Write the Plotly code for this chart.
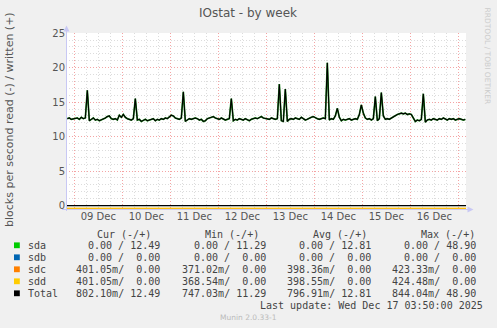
import plotly.graph_objects as go
import pandas as pd

# ---------------- data ----------------
# hourly "written" blocks/s for sda (== Total written), starting 2025-12-08 20:30
write_start = "2025-12-08 20:30"
sda_write = [
    12.6, 12.7, 12.5, 12.6,                                                   # Dec 08 tail
    12.6, 12.7, 12.5, 12.8, 12.6, 12.7, 16.7, 12.3, 12.5, 12.7, 12.4, 12.5,
    12.3, 12.4, 12.6, 12.7, 12.9, 13.0, 12.6, 12.5, 12.6, 12.4, 13.1, 12.8,   # Dec 09
    13.2, 12.8, 12.6, 12.5, 12.4, 12.6, 15.5, 12.4, 12.5, 12.2, 12.4, 12.5,
    12.3, 12.4, 12.4, 12.6, 12.3, 12.5, 12.4, 12.6, 12.5, 12.7, 12.6, 12.8,   # Dec 10
    13.1, 13.0, 12.7, 12.6, 12.5, 12.7, 16.5, 12.2, 12.4, 12.6, 12.5, 12.6,
    12.7, 12.6, 12.4, 12.5, 12.2, 12.3, 12.6, 12.7, 12.8, 12.9, 12.7, 12.6,   # Dec 11
    12.5, 12.7, 12.6, 12.4, 12.5, 12.6, 15.5, 12.3, 12.5, 12.4, 12.6, 12.5,
    12.4, 12.6, 12.5, 12.3, 12.5, 12.6, 12.7, 12.6, 12.8, 12.9, 12.7, 12.6,   # Dec 12
    12.6, 12.5, 12.7, 12.6, 12.5, 12.6, 17.6, 12.3, 12.2, 16.9, 12.2, 12.5,
    12.6, 12.5, 12.7, 12.6, 12.5, 12.8, 12.6, 12.4, 12.5, 12.7, 12.8, 12.9,   # Dec 13
    12.7, 12.6, 12.5, 12.6, 12.7, 12.6, 20.7, 12.4, 12.6, 12.5, 13.0, 14.1,
    12.8, 12.3, 12.5, 12.4, 12.5, 12.6, 12.4, 12.5, 12.6, 12.5, 13.2, 14.6,   # Dec 14
    13.4, 12.7, 12.5, 12.6, 12.4, 12.6, 15.8, 12.3, 12.6, 16.4, 13.0, 12.5,
    12.6, 12.5, 12.7, 12.8, 13.0, 13.2, 13.3, 13.4, 13.3, 13.4, 13.2, 13.3,   # Dec 15
    13.2, 12.6, 12.2, 12.4, 12.3, 12.5, 16.2, 12.1, 12.4, 12.5, 12.4, 12.6,
    12.5, 12.4, 12.6, 12.5, 12.7, 12.5, 12.4, 12.6, 12.5, 12.6, 12.4, 12.5,   # Dec 16
    12.6, 12.5, 12.4, 12.49,                                                  # Dec 17
]
total_write = sda_write  # sdb/sdc/sdd write nothing

read_times = ["2025-12-08 19:50", "2025-12-09 12:00", "2025-12-10 12:00", "2025-12-11 12:00",
              "2025-12-12 12:00", "2025-12-13 12:00", "2025-12-14 12:00", "2025-12-15 12:00",
              "2025-12-16 12:00", "2025-12-17 03:50"]
sda_read = [0, 0, 0, 0, 0, 0, 0, 0, 0, 0]
sdb_read = [0, 0, 0, 0, 0, 0, 0, 0, 0, 0]
sdc_read = [0.40, 0.40, 0.40, 0.39, 0.40, 0.40, 0.40, 0.40, 0.40, 0.40]
sdd_read = [0.40, 0.40, 0.40, 0.40, 0.40, 0.39, 0.40, 0.40, 0.40, 0.40]
total_read = [0.80, 0.80, 0.80, 0.79, 0.80, 0.79, 0.80, 0.80, 0.80, 0.80]

devices = ["sda", "sdb", "sdc", "sdd", "Total"]
dev_colors = ["#00CC00", "#0066B3", "#FF8000", "#FFCC00", "#000000"]
cur_read = [0, 0, 0.40105, 0.40105, 0.80210]
cur_write = [12.49, 0, 0, 0, 12.49]
min_read = [0, 0, 0.37102, 0.36854, 0.74703]
min_write = [11.29, 0, 0, 0, 11.29]
avg_read = [0, 0, 0.39836, 0.39855, 0.79691]
avg_write = [12.81, 0, 0, 0, 12.81]
max_read = [0, 0, 0.42333, 0.42448, 0.84404]
max_write = [48.90, 0, 0, 0, 48.90]
col_headers = ["Cur (-/+)", "Min (-/+)", "Avg (-/+)", "Max (-/+)"]
y_ticks = [0, 5, 10, 15, 20, 25]

x_start, x_end = "2025-12-08 19:50", "2025-12-17 03:50"

# ---------------- geometry helpers ----------------
W, H = 497, 328
L, R, T, B = 66, 31, 33, 119
PW, PH = W - L - R, H - T - B
def px(x): return (x - L) / PW
def py(y): return (H - B - y) / PH

times = pd.date_range(write_start, periods=len(sda_write), freq="h")

fig = go.Figure()
neg = lambda v: [-a for a in v]
for vals, c in [(sda_read, dev_colors[0]), (sdb_read, dev_colors[1]), (sdc_read, dev_colors[2]),
                (sdd_read, dev_colors[3]), (total_read, dev_colors[4])]:
    fig.add_trace(go.Scatter(x=read_times, y=neg(vals), mode="lines",
                             line=dict(color=c, width=1), hoverinfo="skip"))
fig.add_trace(go.Scatter(x=times, y=sda_write, mode="lines",
                         line=dict(color="#1E8C1E", width=1.7), hoverinfo="skip"))
fig.add_trace(go.Scatter(x=times, y=total_write, mode="lines",
                         line=dict(color=dev_colors[4], width=1.1), hoverinfo="skip"))

axis_col = "#C8C8F4"
shapes = [
    # zero line
    dict(type="line", xref="paper", yref="y", x0=0, x1=1, y0=0, y1=0,
         line=dict(color="#000000", width=1.2), layer="above"),
    # y axis line + arrow
    dict(type="line", xref="paper", yref="paper", x0=px(66.5), x1=px(66.5), y0=py(211), y1=py(30),
         line=dict(color=axis_col, width=1)),
    dict(type="path", xref="paper", yref="paper",
         path=f"M {px(63.5)} {py(31.5)} L {px(69.5)} {py(31.5)} L {px(66.5)} {py(25.5)} Z",
         fillcolor=axis_col, line=dict(width=0)),
    # x axis line + arrow
    dict(type="line", xref="paper", yref="paper", x0=px(62), x1=px(468), y0=py(209.5), y1=py(209.5),
         line=dict(color=axis_col, width=1)),
    dict(type="path", xref="paper", yref="paper",
         path=f"M {px(467.5)} {py(206.5)} L {px(467.5)} {py(212.5)} L {px(473.5)} {py(209.5)} Z",
         fillcolor=axis_col, line=dict(width=0)),
]

ann = []
txt_col = "#444444"
ann.append(dict(text="IOstat - by week", x=px(248), y=py(13), xref="paper", yref="paper",
                showarrow=False, xanchor="center", yanchor="middle",
                font=dict(family="DejaVu Sans", size=12, color="#555555")))
ann.append(dict(text="blocks per second read (-) / written (+)", x=px(10), y=py(120),
                xref="paper", yref="paper", showarrow=False, textangle=-90,
                xanchor="center", yanchor="middle",
                font=dict(family="DejaVu Sans", size=11, color="#555555")))
ann.append(dict(text="RRDTOOL / TOBI OETIKER", x=px(487.5), y=py(56), xref="paper", yref="paper",
                showarrow=False, textangle=90, xanchor="center", yanchor="middle",
                font=dict(family="DejaVu Sans", size=7.5, color="#CCCCCC")))

def fmt(v):
    if v != 0 and abs(v) < 1:
        return f"{v*1000:6.2f}m"
    return f"{v:6.2f} "

def cell(r, w):
    return (fmt(r) + "/" + f"{w:6.2f}").strip().replace(" ", "\u00a0")

mono = dict(family="DejaVu Sans Mono", size=10, color=txt_col)
row_y = [245.3, 257.3, 269.3, 281.3, 293.3]
head_right = [152, 260, 368.3, 476]
val_right = [161, 267.3, 372, 477.3]
for h, xr in zip(col_headers, head_right):
    ann.append(dict(text=h.replace(" ", "\u00a0"), x=px(xr), y=py(234), xref="paper", yref="paper",
                    showarrow=False, xanchor="right", yanchor="middle", borderpad=0, font=mono))
cols = [(cur_read, cur_write), (min_read, min_write), (avg_read, avg_write), (max_read, max_write)]
for i, (d, c) in enumerate(zip(devices, dev_colors)):
    yy = row_y[i]
    shapes.append(dict(type="rect", xref="paper", yref="paper", x0=px(14), x1=px(19.8),
                       y0=py(yy - 2.9), y1=py(yy + 2.9), fillcolor=c, line=dict(width=0)))
    ann.append(dict(text=d, x=px(26.5), y=py(yy), xref="paper", yref="paper", showarrow=False,
                    xanchor="left", yanchor="middle", borderpad=0, font=mono))
    for (rv, wv), xr in zip(cols, val_right):
        ann.append(dict(text=cell(rv[i], wv[i]), x=px(xr), y=py(yy), xref="paper", yref="paper",
                        showarrow=False, xanchor="right", yanchor="middle", borderpad=0, font=mono))
ann.append(dict(text="Last update: Wed Dec 17 03:50:00 2025".replace(" ", "\u00a0"),
                x=px(483.5), y=py(305.7), xref="paper", yref="paper", showarrow=False,
                xanchor="right", yanchor="middle", borderpad=0, font=mono))
ann.append(dict(text="Munin 2.0.33-1", x=px(248.5), y=py(317.3), xref="paper", yref="paper",
                showarrow=False, xanchor="center", yanchor="middle",
                font=dict(family="DejaVu Sans", size=7.5, color="#BBBBBB")))

fig.update_layout(
    width=W, height=H, margin=dict(l=L, r=R, t=T, b=B, pad=0),
    paper_bgcolor="#F0F0F0", plot_bgcolor="#FFFFFF",
    showlegend=False, shapes=shapes, annotations=ann,
    font=dict(family="DejaVu Sans", size=10, color="#555555"),
)
fig.update_xaxes(
    range=[x_start, x_end], type="date", tick0="2025-12-09", dtick=86400000,
    ticklabelmode="period", tickformat="%d %b", ticks="", showline=False, zeroline=False,
    showgrid=True, gridcolor="#F4A4A4", griddash="1px,2px", gridwidth=1,
    minor=dict(dtick=21600000, showgrid=True, gridcolor="#DCDCDC", griddash="1px,2px", gridwidth=1),
    tickfont=dict(family="DejaVu Sans", size=10, color="#555555"),
)
fig.update_yaxes(
    range=[-0.5, 25.02], tickvals=y_ticks, ticks="", showline=False, zeroline=False,
    showgrid=True, gridcolor="#F4A4A4", griddash="1px,2px", gridwidth=1,
    minor=dict(dtick=1, tick0=0, showgrid=True, gridcolor="#DCDCDC", griddash="1px,2px", gridwidth=1),
    tickfont=dict(family="DejaVu Sans", size=10, color="#555555"),
)

fig.write_html("out.html")
